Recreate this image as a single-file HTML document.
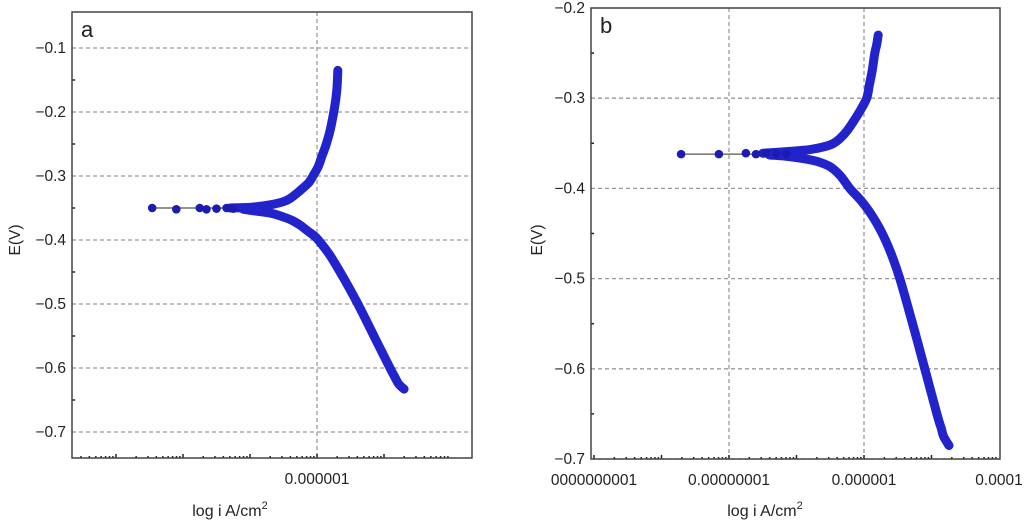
<!DOCTYPE html>
<html><head><meta charset="utf-8"><style>
body{margin:0;background:#fff;}
svg text{font-family:"Liberation Sans",sans-serif;fill:#222;}
</style></head><body>
<svg id="svg" width="1024" height="522" viewBox="0 0 1024 522" xmlns="http://www.w3.org/2000/svg"></svg>
<script>
// Panel a data (log10 i, E)
const aAnodicLogI=[-7.3,-7.0,-6.7,-6.5,-6.4,-6.3,-6.2,-6.12,-6.06,-5.98,-5.93,-5.87,-5.82,-5.78,-5.75,-5.72,-5.70,-5.69];
const aAnodicE=[-0.35,-0.349,-0.345,-0.34,-0.335,-0.327,-0.318,-0.31,-0.30,-0.285,-0.27,-0.253,-0.235,-0.217,-0.20,-0.18,-0.16,-0.135];
const aCathLogI=[-7.1,-6.9,-6.7,-6.5,-6.36,-6.25,-6.15,-6.06,-5.98,-5.8,-5.6,-5.39,-5.15,-4.91,-4.85,-4.78,-4.70];
const aCathE=[-0.352,-0.355,-0.358,-0.364,-0.37,-0.377,-0.385,-0.392,-0.40,-0.425,-0.46,-0.50,-0.55,-0.60,-0.612,-0.625,-0.633];
const aSparseLogI=[-8.46,-8.1,-7.75,-7.65,-7.5,-7.35,-7.25];
const aSparseE=[-0.35,-0.352,-0.35,-0.352,-0.351,-0.35,-0.351];
const aYTicks=[-0.1,-0.2,-0.3,-0.4,-0.5,-0.6,-0.7];
const aXTickVals=[-6];
const aXTickLabels=["0.000001"];
// Panel b data
const bAnodicLogI=[-7.5,-7.1,-6.8,-6.55,-6.45,-6.36,-6.25,-6.15,-6.05,-5.96,-5.92,-5.88,-5.84,-5.81,-5.79];
const bAnodicE=[-0.361,-0.359,-0.357,-0.353,-0.35,-0.345,-0.336,-0.325,-0.313,-0.30,-0.285,-0.27,-0.25,-0.24,-0.23];
const bCathLogI=[-7.4,-7.2,-6.9,-6.7,-6.5,-6.35,-6.21,-6.05,-5.9,-5.75,-5.6,-5.47,-5.28,-5.10,-4.92,-4.86,-4.82,-4.74];
const bCathE=[-0.363,-0.364,-0.367,-0.37,-0.376,-0.386,-0.40,-0.413,-0.428,-0.447,-0.472,-0.50,-0.55,-0.60,-0.65,-0.665,-0.675,-0.685];
const bSparseLogI=[-8.71,-8.15,-7.75,-7.6,-7.45,-7.3,-7.15];
const bSparseE=[-0.362,-0.362,-0.361,-0.362,-0.361,-0.362,-0.362];
const bYTicks=[-0.2,-0.3,-0.4,-0.5,-0.6,-0.7];
const bXTickVals=[-10,-8,-6,-4];
const bXTickLabels=["0000000001","0.00000001","0.000001","0.0001"];

const NS="http://www.w3.org/2000/svg";
const svg=document.getElementById('svg');
function mk(tag,attrs,parent,txt){const e=document.createElementNS(NS,tag);for(const k in attrs)e.setAttribute(k,attrs[k]);if(txt!==undefined)e.textContent=txt;(parent||svg).appendChild(e);return e;}

function smooth(pts){
  let d='M'+pts[0][0].toFixed(1)+','+pts[0][1].toFixed(1);
  for(let i=0;i<pts.length-1;i++){
    const p0=pts[Math.max(0,i-1)],p1=pts[i],p2=pts[i+1],p3=pts[Math.min(pts.length-1,i+2)];
    const c1=[p1[0]+(p2[0]-p0[0])/6,p1[1]+(p2[1]-p0[1])/6];
    const c2=[p2[0]-(p3[0]-p1[0])/6,p2[1]-(p3[1]-p1[1])/6];
    d+=' C'+c1.map(v=>v.toFixed(1)).join(',')+' '+c2.map(v=>v.toFixed(1)).join(',')+' '+p2[0].toFixed(1)+','+p2[1].toFixed(1);
  }
  return d;
}

function panel(cfg){
  const g=mk('g',{});
  
  
  const X=v=>cfg.x0+(v-cfg.xRef)*cfg.dec;
  const Y=v=>cfg.yTop+(cfg.yMax-v)/(cfg.yMax-cfg.yMin)*(cfg.yBot-cfg.yTop);
  cfg.yTicks.forEach(t=>{
    const l=mk('line',{x1:cfg.L,x2:cfg.R,y1:Y(t),y2:Y(t),stroke:'#999','stroke-width':1.3,'stroke-dasharray':'4,3'},g);
    
    
    const tx=mk('text',{x:cfg.L-6,y:Y(t)+5,'text-anchor':'end','font-size':15.5},g,'\u2212'+Math.abs(t).toFixed(1));
    
    
  });
  for(let i=0;i<cfg.yTicks.length-1;i++){
    const m=(cfg.yTicks[i]+cfg.yTicks[i+1])/2;
    mk('line',{x1:cfg.L,x2:cfg.L+3,y1:Y(m),y2:Y(m),stroke:'#222','stroke-width':1.5},g);
  }
  cfg.vGrid.forEach(v=>{
    const l=mk('line',{x1:X(v),x2:X(v),y1:cfg.T,y2:cfg.B,stroke:'#999','stroke-width':1.3,'stroke-dasharray':'4,3'},g);
    
    
  });
  for(let d=cfg.dMin;d<cfg.dMax;d++){
    for(let k=1;k<=9;k++){
      const xv=X(d+Math.log10(k));
      if(xv<cfg.L||xv>cfg.R)continue;
      mk('line',{x1:xv,x2:xv,y1:cfg.B,y2:cfg.B-(k==1?4:2),stroke:'#222','stroke-width':1.5},g);
    }
  }
  cfg.xTickVals.forEach((v,i)=>{
    const tx=mk('text',{x:X(v),y:cfg.B+26,'text-anchor':'middle','font-size':15.5},g,cfg.xTickLabels[i]);
    
    
  });
  const fr=mk('rect',{x:cfg.L,y:cfg.T,width:cfg.R-cfg.L,height:cfg.B-cfg.T,fill:'none',stroke:'#444','stroke-width':1.5},g);
  
  
  const path=(xs,ys,w,name)=>{
    const pts=xs.map((v,i)=>[X(v),Y(ys[i])]);
    const p=mk('path',{d:smooth(pts),fill:'none',stroke:'#2323cc','stroke-width':w,'stroke-linecap':'round','stroke-linejoin':'round'},g);
    
    
  };
  mk('line',{x1:X(cfg.sx[0]),x2:X(cfg.sx[cfg.sx.length-1]),y1:Y(cfg.se[0]),y2:Y(cfg.se[0]),stroke:'#555','stroke-width':1.2},g);
  path(cfg.ax,cfg.ae,9,'anodic-branch');
  path(cfg.cx,cfg.ce,9,'cathodic-branch');
  cfg.sx.forEach((v,i)=>{
    const c=mk('circle',{cx:X(v),cy:Y(cfg.se[i]),r:4.3,fill:'#1c1cb0'},g);
    
    
  });
  const lt=mk('text',{x:cfg.L+9,y:cfg.T+25,'font-size':22},g,cfg.letter);
  
  
  const yt=mk('text',{x:cfg.yTitleX,y:240,'font-size':15.5,'text-anchor':'middle',transform:`rotate(-90 ${cfg.yTitleX} 240)`},g,'E(V)');
  
  
  const xt=mk('text',{x:cfg.xTitleX,y:516,'font-size':16,'text-anchor':'middle'},g);
  
  
  mk('tspan',{},xt,'log i A/cm');
  mk('tspan',{dy:-7,'font-size':11},xt,'2');
}
panel({name:'panel-a',letter:'a',L:72,R:472,T:12,B:458,x0:317,xRef:-6,dec:67,yTop:48,yBot:432,yMax:-0.1,yMin:-0.7,
 yTicks:aYTicks,vGrid:[-6],dMin:-10,dMax:-4,xTickVals:aXTickVals,xTickLabels:aXTickLabels,
 ax:aAnodicLogI,ae:aAnodicE,cx:aCathLogI,ce:aCathE,sx:aSparseLogI,se:aSparseE,yTitleX:20,xTitleX:230});
panel({name:'panel-b',letter:'b',L:591,R:1000,T:8,B:459,x0:729,xRef:-8,dec:67.5,yTop:8,yBot:459,yMax:-0.2,yMin:-0.7,
 yTicks:bYTicks,vGrid:[-8,-6],dMin:-11,dMax:-4,xTickVals:bXTickVals,xTickLabels:bXTickLabels,
 ax:bAnodicLogI,ae:bAnodicE,cx:bCathLogI,ce:bCathE,sx:bSparseLogI,se:bSparseE,yTitleX:542,xTitleX:765});
</script>
</body></html>
